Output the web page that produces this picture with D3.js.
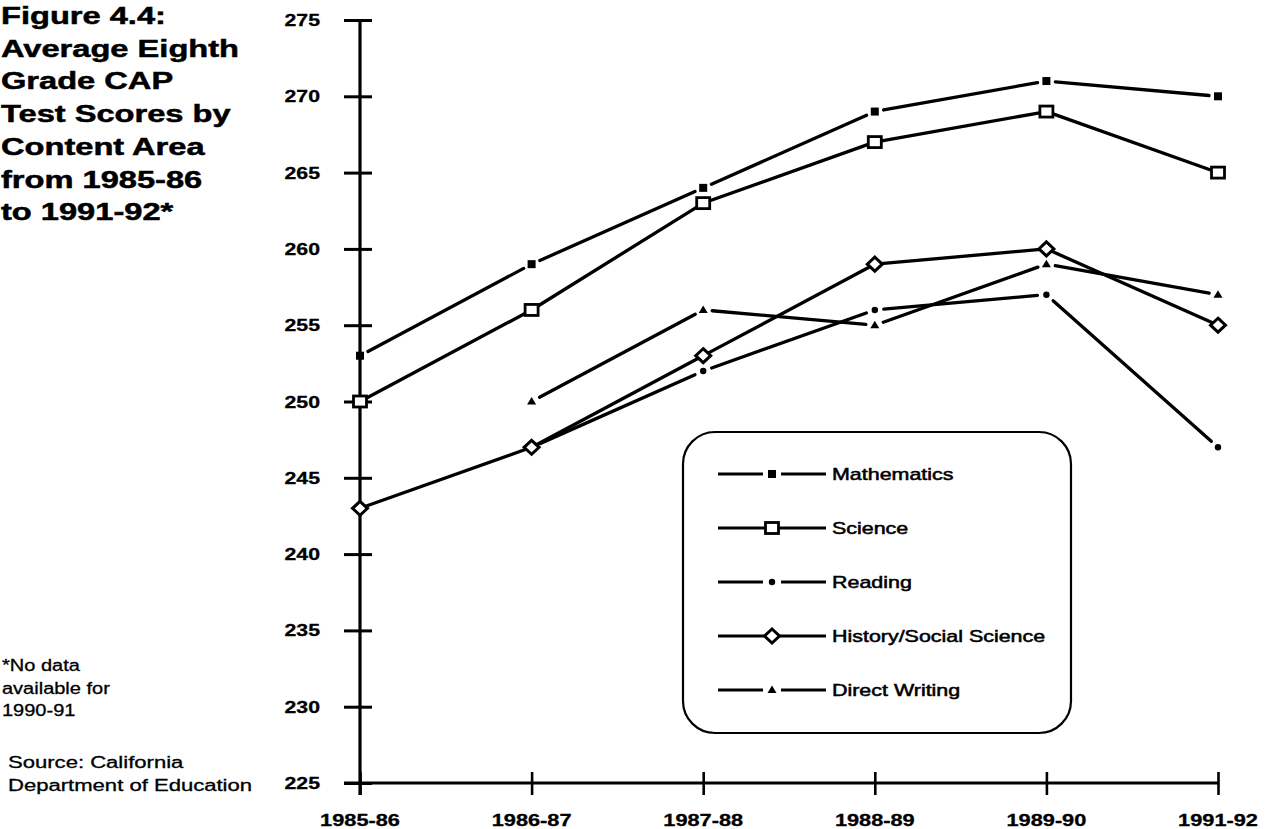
<!DOCTYPE html>
<html>
<head>
<meta charset="utf-8">
<script src="https://cdn.jsdelivr.net/npm/d3@7"></script>
<style>
  html, body { margin: 0; padding: 0; background: #fff; }
  svg { display: block; font-family: "Liberation Sans", Arial, Helvetica, sans-serif; }
</style>
</head>
<body>
<svg id="chart" width="1267" height="829"></svg>
<script>
// School years on the horizontal axis (no data for 1990-91)
const years = ["1985-86", "1986-87", "1987-88", "1988-89", "1989-90", "1991-92"];

// Average eighth grade CAP scores per content area
const mathematics          = [253, 259, 264, 269, 271, 270];
const science              = [250, 256, 263, 267, 269, 265];
const reading              = [null, 247, 252, 256, 257, 247];
const historySocialScience = [243, 247, 253, 259, 260, 255];
const directWriting        = [null, 250, 256, 255, 259, 257];

const seriesNames = ["Mathematics", "Science", "Reading", "History/Social Science", "Direct Writing"];
const yTicks = [225, 230, 235, 240, 245, 250, 255, 260, 265, 270, 275];

const titleLines = ["Figure 4.4:", "Average Eighth", "Grade CAP", "Test Scores by",
                    "Content Area", "from 1985-86", "to 1991-92*"];
const noteLines = ["*No data", "available for", "1990-91"];
const sourceLines = ["Source: California", "Department of Education"];

const svg = d3.select("#chart");
const x = d3.scalePoint().domain(years).range([360, 1218]);
const y = d3.scaleLinear().domain([225, 275]).range([783, 20]);

// Wide, heavy type set with a horizontal stretch
function stretchedText(g, str, tx, ty, opts) {
  const t = g.append("text")
    .attr("transform", `translate(${tx},${ty}) scale(${opts.sx},1)`)
    .attr("font-size", opts.size)
    .attr("font-weight", opts.weight || "normal")
    .attr("text-anchor", opts.anchor || "start")
    .attr("fill", "#000")
    .text(str);
  if (opts.heavy) t.attr("stroke", "#000").attr("stroke-width", opts.heavy);
  return t;
}

// Title block
titleLines.forEach((t, i) => {
  stretchedText(svg, t, 1, 24 + i * 32.7, { size: 24, weight: "bold", sx: 1.36, heavy: 0.5 });
});
noteLines.forEach((t, i) => {
  stretchedText(svg, t, 2, 671 + i * 22.5, { size: 16, sx: 1.25, heavy: 0.3 });
});
sourceLines.forEach((t, i) => {
  stretchedText(svg, t, 8, 768 + i * 23, { size: 16, sx: 1.38, heavy: 0.3 });
});

// Y axis: ticks cross the axis line
const yAxis = svg.append("g").attr("transform", "translate(360,0)")
  .call(d3.axisLeft(y).tickValues(yTicks).tickSize(16).tickFormat(""));
yAxis.select(".domain").remove();
yAxis.selectAll(".tick line").attr("x1", 12).attr("x2", -16)
  .attr("stroke", "#000").attr("stroke-width", 3);
svg.append("line").attr("x1", 360).attr("x2", 360).attr("y1", y(275)).attr("y2", 795)
  .attr("stroke", "#000").attr("stroke-width", 3.2);
yTicks.forEach(v => {
  stretchedText(svg, String(v), 320, y(v) + 6, { size: 17, weight: "bold", sx: 1.25, anchor: "end", heavy: 0.3 });
});

// X axis
const xAxis = svg.append("g").attr("transform", `translate(0,${y(225)})`)
  .call(d3.axisBottom(x).tickSize(12).tickFormat(""));
xAxis.select(".domain").remove();
xAxis.selectAll(".tick line").attr("y1", -11).attr("y2", 12)
  .attr("stroke", "#000").attr("stroke-width", 2.6);
svg.append("line").attr("x1", 344).attr("x2", x(years[years.length - 1])).attr("y1", y(225)).attr("y2", y(225))
  .attr("stroke", "#000").attr("stroke-width", 3.2);
years.forEach(yr => {
  stretchedText(svg, yr, x(yr), 826, { size: 16, weight: "bold", sx: 1.36, anchor: "middle", heavy: 0.3 });
});

// Marker shapes
const markers = {
  "Mathematics": g => g.append("rect").attr("x", -4).attr("y", -4).attr("width", 8).attr("height", 8).attr("fill", "#000"),
  "Science": g => g.append("rect").attr("x", -6.5).attr("y", -5.5).attr("width", 13).attr("height", 11)
                    .attr("fill", "#fff").attr("stroke", "#000").attr("stroke-width", 2.8),
  "Reading": g => g.append("circle").attr("r", 3.2).attr("fill", "#000"),
  "History/Social Science": g => g.append("path").attr("d", "M0,-7L7.5,0L0,7L-7.5,0Z")
                    .attr("fill", "#fff").attr("stroke", "#000").attr("stroke-width", 3),
  "Direct Writing": g => g.append("path").attr("d", "M0,-4.5L4.5,3L-4.5,3Z").attr("fill", "#000")
};
const gaps = { "Mathematics": 9, "Science": 7, "Reading": 9, "History/Social Science": 6, "Direct Writing": 9 };

const seriesData = [mathematics, science, reading, historySocialScience, directWriting];
const line = d3.line().x(d => d[0]).y(d => d[1]);

seriesNames.forEach((name, si) => {
  const vals = seriesData[si];
  const pts = years.map((yr, i) => vals[i] == null ? null : [x(yr), y(vals[i])]).filter(p => p);
  const g = svg.append("g");
  // segments stop short of each marker
  for (let i = 0; i < pts.length - 1; i++) {
    const [x0, y0] = pts[i], [x1, y1] = pts[i + 1];
    const len = Math.hypot(x1 - x0, y1 - y0);
    const ux = (x1 - x0) / len, uy = (y1 - y0) / len;
    const gp = gaps[name];
    g.append("path")
      .attr("d", line([[x0 + ux * gp, y0 + uy * gp], [x1 - ux * gp, y1 - uy * gp]]))
      .attr("fill", "none").attr("stroke", "#000").attr("stroke-width", 3.3).attr("stroke-linecap", "round");
  }
  pts.forEach(p => markers[name](g.append("g").attr("transform", `translate(${p[0]},${p[1]})`)));
});

// Legend
const legend = svg.append("g");
legend.append("rect").attr("x", 683).attr("y", 432).attr("width", 388).attr("height", 301)
  .attr("rx", 32).attr("ry", 32).attr("fill", "#fff").attr("stroke", "#000").attr("stroke-width", 2.2);
seriesNames.forEach((name, i) => {
  const ly = 474 + i * 54;
  const gp = gaps[name];
  legend.append("line").attr("x1", 718).attr("x2", 772 - gp).attr("y1", ly).attr("y2", ly)
    .attr("stroke", "#000").attr("stroke-width", 2.8);
  legend.append("line").attr("x1", 772 + gp).attr("x2", 826).attr("y1", ly).attr("y2", ly)
    .attr("stroke", "#000").attr("stroke-width", 2.8);
  markers[name](legend.append("g").attr("transform", `translate(772,${ly})`));
  stretchedText(legend, name, 832, ly + 6, { size: 16, sx: 1.34, heavy: 0.5 });
});
</script>
</body>
</html>
